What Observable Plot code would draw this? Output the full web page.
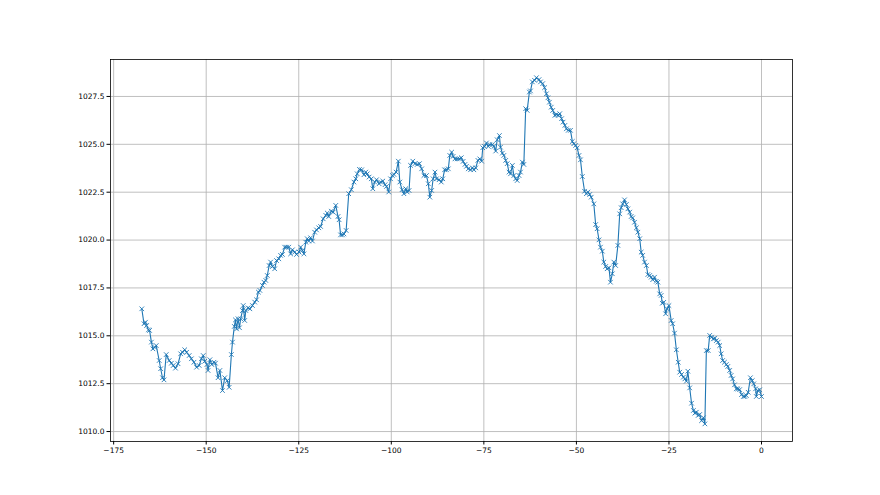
<!DOCTYPE html>
<html>
<head>
<meta charset="utf-8">
<script src="https://cdn.jsdelivr.net/npm/d3@7"></script>
<script src="https://cdn.jsdelivr.net/npm/@observablehq/plot@0.6"></script>
<style>
  html, body { margin: 0; padding: 0; background: white; }
  #chart { width: 880px; height: 495px; }
</style>
</head>
<body>
<div id="chart"></div>
<script>
// Time offset (x) and reading (y)
const xs = [
-167.4,-166.8,-166.4,-166.1,-165.6,-165.3,-164.8,-164.4,-163.9,-163.5,-162.7,-162.3,-161.8,-161.4,-160.8,-160.0,-159.4,-158.9,-158.3,-157.6,
-156.9,-156.4,-155.8,-155.3,-154.6,-154.0,-153.3,-152.6,-151.9,-151.3,-150.8,-150.4,-149.8,-149.5,-149.0,-148.5,-147.9,-147.5,-146.8,-146.3,
-145.6,-145.0,-144.3,-143.8,
-143.2,-142.9,-142.4,-142.1,-141.8,-141.4,-141.0,-140.7,-140.2,-140.0,-139.6,-139.3,-138.7,-138.2,-137.5,-136.9,-136.4,-135.9,-135.5,-134.8,
-134.4,-133.9,-133.5,-133.0,-132.6,-132.1,-131.5,-131.0,-130.4,-129.9,-129.4,-128.8,-128.3,-127.7,-127.2,-126.7,-126.1,-125.6,-124.9,-124.5,
-124.0,-123.6,-123.1,-122.7,-122.3,-121.8,-121.3,-120.7,-120.2,-119.6,-119.1,-118.4,
-117.7,-117.3,-116.9,-116.2,-115.7,-115.0,-114.4,-114.1,-113.7,-113.2,-112.8,-112.2,-111.5,-110.8,-110.1,-109.6,-109.2,-108.6,-108.0,-107.4,
-106.9,-106.5,-106.0,-105.4,-105.0,-104.5,-104.0,-103.3,-102.9,-102.3,-101.7,-101.3,-100.7,-100.2,-99.7,-99.3,-98.7,-98.1,-97.7,-97.1,
-96.6,-96.1,-95.7,-95.2,-94.8,-94.2,-93.6,-93.0,-92.4,-91.8,-91.2,-90.5,-90.0,-89.6,
-89.1,-88.7,-88.2,-87.8,-87.1,-86.5,-86.1,-85.6,-85.1,-84.6,-84.2,-83.7,-83.3,-82.8,-82.2,-81.6,-81.1,-80.6,-80.1,-79.7,
-79.2,-78.6,-78.1,-77.7,-77.2,-76.6,-76.1,-75.6,-75.3,-74.8,-74.3,-73.8,-73.4,-72.7,-72.3,-71.8,-71.4,-70.8,-70.5,-70.0,
-69.6,-69.1,-68.7,-68.2,-67.8,-67.3,-66.9,-66.4,-66.0,-65.5,-65.1,-64.6,-64.2,
-63.7,-63.3,-62.7,-62.4,-61.9,-61.3,-60.8,-60.1,-59.7,-59.1,-58.6,-58.1,-57.7,-57.3,-56.8,-56.4,-55.8,-55.4,-54.9,-54.5,
-54.0,-53.6,-53.1,-52.7,-52.2,-51.6,-51.1,-50.7,-50.2,-49.8,-49.3,-48.9,-48.4,-47.8,-47.3,-46.9,-46.4,-46.0,-45.3,
-44.8,-44.4,-43.9,-43.5,-43.0,-42.6,-42.1,-41.7,-41.2,-40.8,-40.3,-39.9,-39.4,-38.8,-38.3,-37.9,-37.5,-37.0,-36.5,-36.1,
-35.6,-35.2,-34.8,-34.3,-33.8,-33.4,-32.9,-32.5,-32.1,-31.6,-31.1,-30.7,-30.2,-29.8,-29.4,-28.9,-28.4,-28.0,-27.5,-27.1,
-26.8,-26.4,-25.9,-25.5,-25.0,-24.4,-24.0,-23.5,-23.0,-22.5,-22.1,-21.6,-21.1,-20.7,-20.3,-19.9,-19.4,-18.9,-18.4,-18.0,
-17.6,-17.1,-16.7,-16.2,-15.7,-15.3,-14.9,-14.4,-14.0,-13.5,-13.0,-12.6,-12.2,-11.7,-11.3,-10.9,-10.5,-10.0,-9.5,-9.1,
-8.6,-8.2,-7.8,-7.3,-6.8,-6.4,-5.9,-5.4,-4.9,-4.5,-4.1,-3.6,-3.0,-2.5,-2.1,-1.6,-1.4,-1.0,-0.5,0.0
];
const ys = [
1016.41,1015.63,1015.71,1015.54,1015.31,1015.28,1014.67,1014.32,1014.40,1014.49,1013.71,1013.28,1012.81,1012.70,1014.02,1013.71,1013.57,1013.45,1013.31,1013.54,
1014.06,1014.14,1014.27,1014.14,1013.97,1013.80,1013.62,1013.36,1013.45,1013.80,1013.97,1013.67,1013.50,1013.19,1013.75,1013.50,1013.62,1013.57,1012.81,1013.19,
1012.14,1012.81,1012.66,1012.31,
1014.02,1014.67,1015.49,1015.83,1015.36,1015.89,1015.42,1015.89,1016.32,1016.58,1015.80,1016.32,1016.46,1016.41,1016.58,1016.76,1016.88,1017.28,1017.37,1017.63,
1017.80,1017.89,1018.15,1018.67,1018.85,1018.62,1018.50,1018.93,1019.02,1019.20,1019.25,1019.63,1019.63,1019.63,1019.28,1019.49,1019.37,1019.25,1019.37,1019.63,
1019.46,1019.28,1019.89,1020.07,1019.95,1020.12,1019.95,1020.41,1020.53,1020.64,1020.71,1021.11,
1021.29,1021.41,1021.23,1021.51,1021.46,1021.81,1021.23,1021.06,1020.27,1020.27,1020.32,1020.50,1022.42,1022.63,1023.03,1023.20,1023.46,1023.69,1023.67,1023.41,
1023.55,1023.46,1023.29,1023.20,1022.68,1023.03,1023.15,1022.94,1023.03,1023.08,1022.89,1022.80,1022.51,1023.20,1023.37,1023.43,1023.55,1024.12,1023.03,1022.63,
1022.42,1022.68,1022.51,1022.59,1023.90,1024.12,1023.99,1023.95,1023.99,1023.72,1023.37,1023.37,1022.94,1022.24,
1022.59,1023.20,1023.55,1023.20,1023.15,1023.03,1023.20,1023.67,1023.67,1023.72,1024.42,1024.59,1024.37,1024.24,1024.24,1024.24,1024.30,1024.11,1023.95,1023.85,
1023.72,1023.67,1023.77,1023.67,1023.77,1024.16,1024.24,1024.12,1024.82,1024.89,1025.07,1024.89,1024.99,1024.99,1024.89,1024.65,1025.24,1025.46,1024.85,1024.54,
1024.42,1024.16,1023.99,1023.55,1023.46,1023.90,1023.37,1023.20,1023.11,1023.37,1023.55,1024.07,1023.95,
1026.86,1026.77,1027.73,1027.79,1028.26,1028.34,1028.48,1028.38,1028.26,1028.17,1027.96,1027.64,1027.43,1027.20,1026.94,1026.77,1026.51,1026.56,1026.51,1026.60,
1026.34,1026.16,1025.99,1025.81,1025.73,1025.73,1025.15,1025.03,1024.94,1024.82,1024.42,1024.19,1023.32,1022.55,1022.42,1022.51,1022.38,1022.24,1021.89,
1020.81,1020.59,1020.01,1019.63,1019.42,1018.85,1018.62,1018.50,1018.55,1017.80,1018.24,1018.85,1018.67,1019.72,1021.37,1021.69,1021.89,1022.10,1021.86,1021.63,
1021.46,1021.23,1021.16,1020.93,1020.64,1020.41,1020.07,1019.37,1019.20,1018.85,1018.67,1018.20,1018.15,1018.06,1017.93,1018.06,1017.85,1017.80,1017.19,1017.11,
1016.70,1016.75,1016.15,1016.41,1016.58,1015.80,1015.63,1015.14,1014.27,1013.62,1013.10,1012.98,1012.84,1012.75,1012.63,1013.15,1012.28,1011.48,1011.10,1010.96,
1011.01,1010.84,1010.89,1010.57,1010.72,1010.40,1014.23,1014.23,1015.02,1014.93,1014.84,1014.87,1014.75,1014.67,1014.49,1014.06,1013.71,1013.62,1013.50,1013.40,
1013.19,1012.93,1012.75,1012.44,1012.23,1012.23,1012.19,1011.93,1011.83,1011.83,1011.88,1012.05,1012.81,1012.66,1012.49,1012.23,1011.83,1012.14,1012.18,1011.83
];
const xTicks = [-175, -150, -125, -100, -75, -50, -25, 0];
const yTicks = [1010.0, 1012.5, 1015.0, 1017.5, 1020.0, 1022.5, 1025.0, 1027.5];

const data = xs.map((x, i) => ({x, y: ys[i]}));
const color = "#1f77b4";
const font = "'DejaVu Sans', sans-serif";

const chart = Plot.plot({
  width: 880,
  height: 495,
  marginLeft: 110,
  marginRight: 88,
  marginTop: 59,
  marginBottom: 54,
  style: {fontFamily: font, fontSize: "7.5px", color: "black", background: "white"},
  x: {domain: [-175.85, 8.37], label: null},
  y: {domain: [1009.48, 1029.43], label: null},
  marks: [
    Plot.gridX(xTicks, {stroke: "#b0b0b0", strokeOpacity: 1, strokeWidth: 0.8}),
    Plot.gridY(yTicks, {stroke: "#b0b0b0", strokeOpacity: 1, strokeWidth: 0.8}),
    Plot.line(data, {x: "x", y: "y", stroke: color, strokeWidth: 1.1}),
    Plot.dot(data, {x: "x", y: "y", symbol: "times", r: 2.2, stroke: color, strokeWidth: 0.9}),
    Plot.frame({stroke: "black", strokeWidth: 0.8}),
    Plot.axisX(xTicks, {tickSize: 3.5, tickPadding: 3, tickFormat: d3.format("d"), label: null, fontSize: 7.5}),
    Plot.axisY(yTicks, {tickSize: 3.5, tickPadding: 2.5, tickFormat: d3.format(".1f"), label: null, fontSize: 7.5})
  ]
});
document.getElementById("chart").appendChild(chart);
</script>
</body>
</html>
